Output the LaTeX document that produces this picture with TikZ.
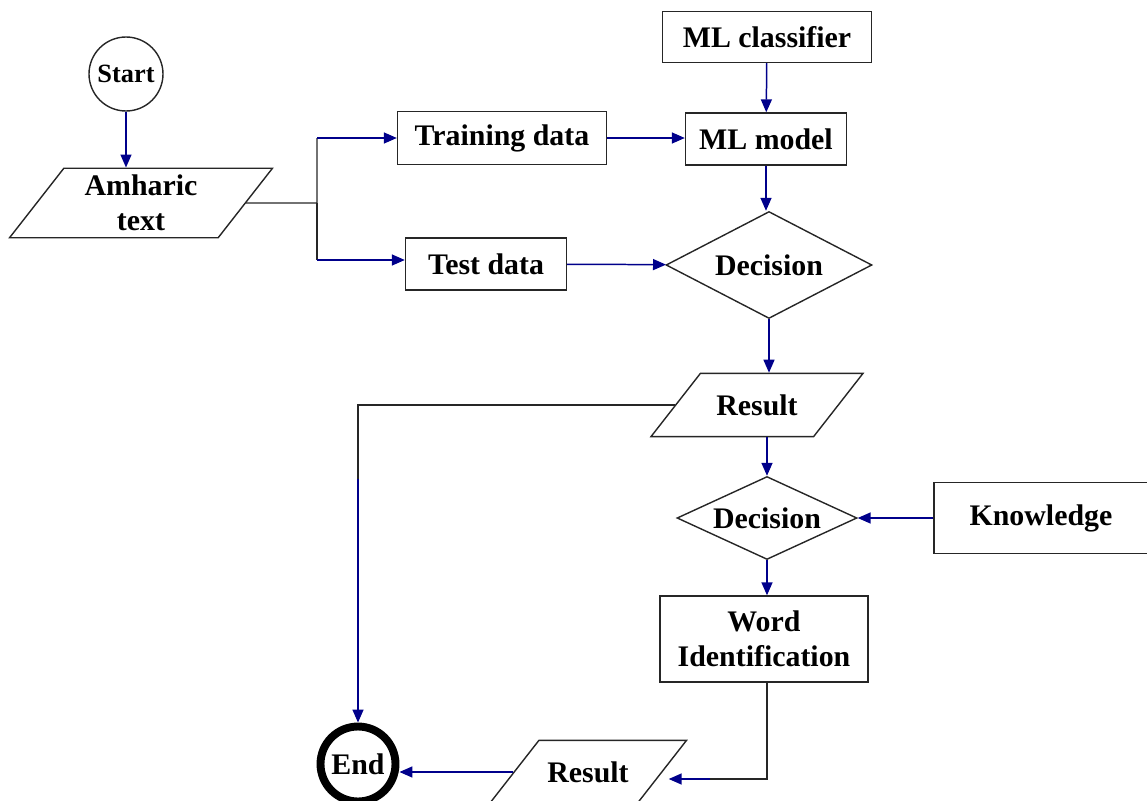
\documentclass[tikz,border=0pt]{standalone}
\usepackage{fontspec}
\setmainfont{Liberation Serif}
\usetikzlibrary{arrows.meta,positioning,shapes.geometric}
\definecolor{flowblue}{RGB}{0,0,139}
\tikzset{
    base/.style={draw=black!85, line width=0.8pt, font=\fontsize{17}{20}\selectfont\bfseries, align=center, inner sep=0},
    term/.style={base, circle, minimum size=1.48cm},
    proc/.style={base, rectangle},
    io/.style={base, trapezium, trapezium left angle=52, trapezium right angle=128, trapezium stretches body=true},
    dec/.style={base, diamond, shape aspect=2},
    post/.style={-{Triangle[length=2.6mm,width=2.2mm]}, line width=0.85pt, draw=flowblue},
    wire/.style={line width=0.85pt, draw=black!85},
  }
\begin{document}
\begin{tikzpicture}[x=0.02cm, y=-0.02cm]
  \useasboundingbox (0,0) rectangle (1147,801);
  \node (start) [term, font=\fontsize{15}{18}\selectfont\bfseries] at (126,74) {Start};
  \node (amh) [io, inner ysep=0.134cm, minimum width=5.26cm] at (141,203) {Amharic\\text};
  \node (train) [proc, minimum width=4.18cm, minimum height=1.06cm] at (502,138) {Training data};
  \node (test) [proc, minimum width=3.22cm, minimum height=1.04cm] at (486,264) {Test data};
  \node (clf) [proc, minimum width=4.18cm, minimum height=1.02cm] at (767,37) {ML classifier};
  \node (model) [proc, minimum width=3.22cm, minimum height=1.04cm] at (766,139) {ML model};
  \node (dec1) [dec, minimum width=4.12cm, minimum height=2.14cm] at (769,265) {Decision};
  \node (res1) [io, inner ysep=0.421cm, minimum width=4.24cm] at (757,405) {Result};
  \node (dec2) [dec, minimum width=3.6cm, minimum height=1.66cm] at (767,518) {Decision};
  \node (know) [proc, minimum width=4.28cm, minimum height=1.42cm] at (1041,518) {Knowledge};
  \node (word) [proc, minimum width=4.16cm, minimum height=1.72cm] at (764,639) {Word\\Identification};
  \node (res2) [io, inner ysep=0.421cm, minimum width=3.94cm] at (588,772) {Result};
  \node (end) [term, draw=black, line width=4.5pt, minimum size=1.5cm] at (358,764) {End};

  \coordinate (fork) at (317,203);
  \coordinate (tap) at (317,260);
  \coordinate (drop) at (358,479);
  \coordinate (turn) at (767,779);
  \coordinate (mid) at (710,779);

  \draw [post] (start) -- (start |- amh.north);
  \draw [wire] (amh.east) -- (fork) -- (fork |- train);
  \draw [post] (fork |- train) -- (train);
  \draw [wire] (fork) -- (tap);
  \draw [post] (tap) -- (tap -| test.west);
  \draw [post] (train.east) -- (train.east -| model.west);
  \draw [post] (clf) -- (model);
  \draw [post] (model) -- (model |- dec1.north);
  \draw [post] (test) -- (dec1);
  \draw [post] (dec1.south) -- (dec1.south |- res1.north);
  \draw [wire] (res1.west) -| (drop);
  \draw [post] (drop) -- (end);
  \draw [post] (res1.south -| dec2) -- (dec2.north);
  \draw [post] (know) -- (dec2);
  \draw [post] (dec2.south) -- (dec2.south |- word.north);
  \draw [wire] (word.south -| turn) -- (turn) -- (mid);
  \draw [post, shorten >=1.2mm] (mid) -- (mid -| res2.east);
  \draw [post] (res2.west) -- (res2.west -| end.east);
\end{tikzpicture}
\end{document}
